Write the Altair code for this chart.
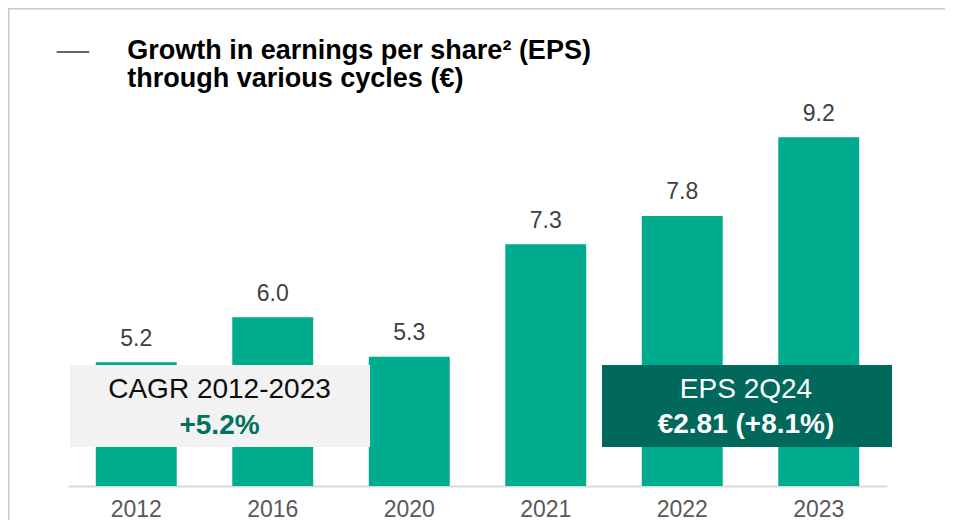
import altair as alt
import pandas as pd

years = ["2012", "2016", "2020", "2021", "2022", "2023"]
eps = [5.2, 6.0, 5.3, 7.3, 7.8, 9.2]
title_lines = ["Growth in earnings per share² (EPS)", "through various cycles (€)"]
cagr_lines = ["CAGR 2012-2023", "+5.2%"]
epsq_lines = ["EPS 2Q24", "€2.81 (+8.1%)"]

TEAL = "#00AB8E"
DARK = "#00695C"
FONT = "Liberation Sans"

df = pd.DataFrame({"year": years, "eps": eps})
one = pd.DataFrame({"k": [0]})

x = alt.X(
    "year:N", sort=years, title=None,
    scale=alt.Scale(paddingInner=0.407, paddingOuter=0.2035),
    axis=alt.Axis(labelAngle=0, labelFontSize=23, labelColor="#595959", labelFont=FONT,
                  domainColor="#D9D9D9", domainWidth=2, ticks=False, tickSize=0,
                  labelPadding=30, labelBaseline="alphabetic", grid=False),
)
y = alt.Y("eps:Q", scale=alt.Scale(domain=[3, 10], zero=False, clamp=True, nice=False), axis=None)

base = alt.Chart(df).encode(x=x, y=y)
bars = base.mark_bar(color=TEAL)
values = base.mark_text(baseline="alphabetic", dy=-16.6, fontSize=23, font=FONT,
                        color="#404040").encode(text=alt.Text("eps:Q", format=".1f"))


def rect(x1, x2, y1, y2, color):
    return alt.Chart(one).mark_rect(color=color).encode(
        x=alt.value(x1), x2=alt.value(x2), y=alt.value(y1), y2=alt.value(y2))


def label(txt, xx, yy, size, color, weight="normal", align="center"):
    return alt.Chart(one).mark_text(align=align, baseline="alphabetic", fontSize=size,
                                    font=FONT, fontWeight=weight, color=color).encode(
        x=alt.value(xx), y=alt.value(yy), text=alt.value(txt))


cagr_box = rect(2, 302, 272.75, 354.75, "#F2F2F2")
eps_box = rect(534, 824, 272.75, 354.75, DARK)
cagr1 = label(cagr_lines[0], 151.5, 305.45, 28, "#0D0D0D")
cagr2 = label(cagr_lines[1], 151.5, 341.75, 28, "#00705F", "bold")
eps1 = label(epsq_lines[0], 678, 305.45, 28, "white")
eps2 = label(epsq_lines[1], 678, 341.05, 28, "white", "bold")
t1 = label(title_lines[0], 59.3, -33.55, 27, "#000000", "bold", "left")
t2 = label(title_lines[1], 59.3, -5.25, 27, "#000000", "bold", "left")

dash = alt.Chart(one).mark_rule(color="#333333", strokeWidth=1.3).encode(
    x=alt.value(-11.3), x2=alt.value(21.3), y=alt.value(-40.25))
top_border = alt.Chart(one).mark_rule(color="#C8C8C8", strokeWidth=1.5).encode(
    x=alt.value(-60), x2=alt.value(877), y=alt.value(-83.5))
left_border = alt.Chart(one).mark_rule(color="#C8C8C8", strokeWidth=1.5).encode(
    x=alt.value(-59.25), y=alt.value(-84.25), y2=alt.value(427.75))

chart = alt.layer(
    top_border, left_border, bars, values, cagr_box, eps_box,
    cagr1, cagr2, eps1, eps2, t1, t2, dash,
).properties(
    width=819, height=393.75,
    autosize=alt.AutoSizeParams(type="none"),
    padding={"left": 60, "top": 84.25, "right": 58, "bottom": 34},
    background="white",
).configure_view(stroke=None)

chart.save("out.html", embed_options={"renderer": "svg", "actions": False})
